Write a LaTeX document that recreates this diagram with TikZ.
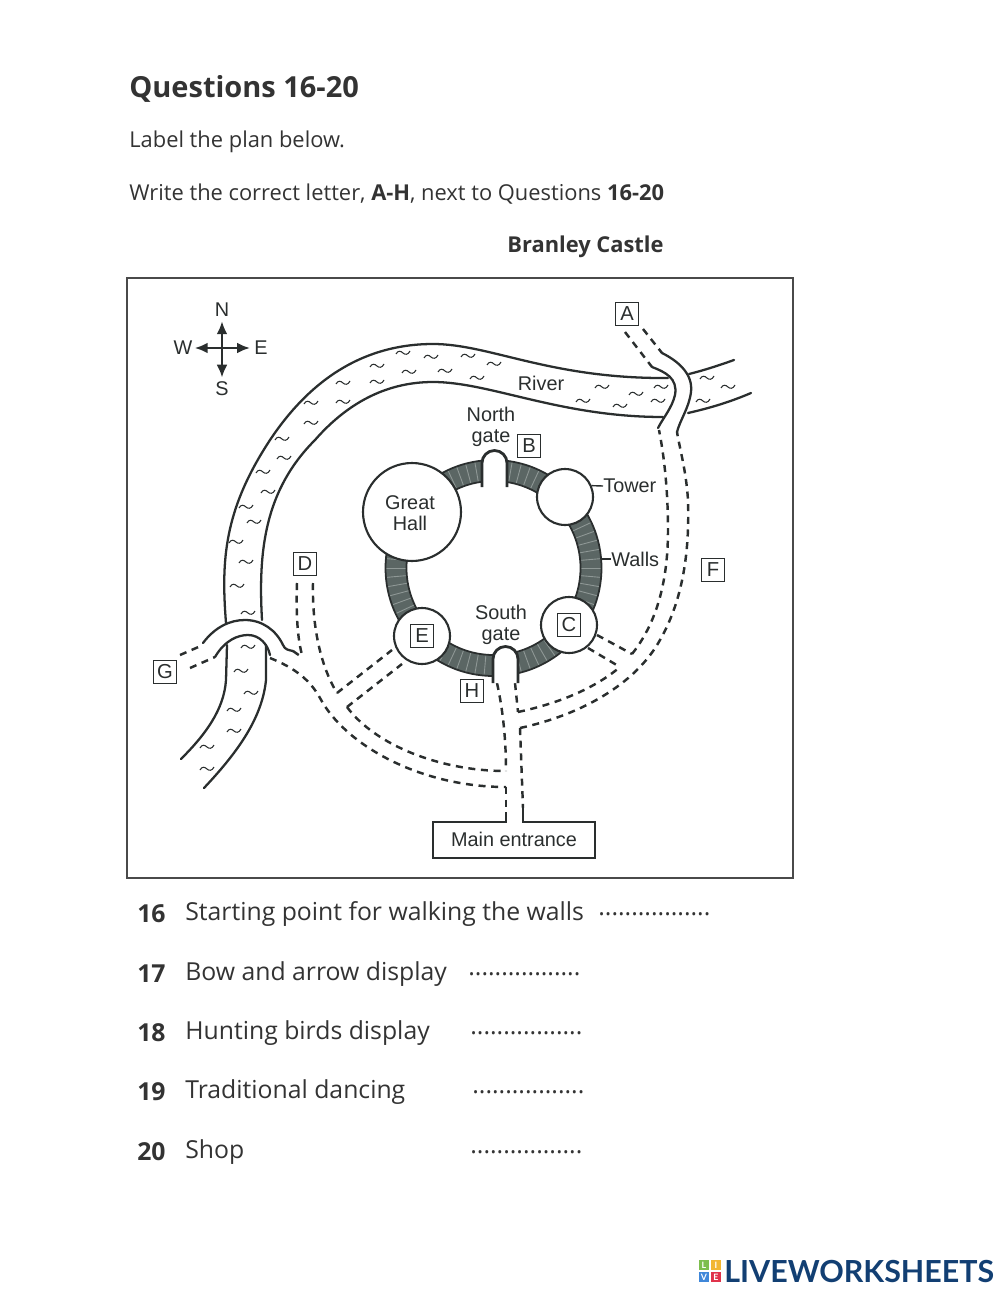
\documentclass[tikz,border=0pt]{standalone}
\usepackage{fontspec}
\setmainfont{Open Sans}
\newfontfamily\planfont{Liberation Sans}
\newfontfamily\logofont{Lato}
\usepackage{xcolor}
\usetikzlibrary{arrows.meta,calc,positioning}
\definecolor{ink}{HTML}{333333}
\definecolor{planink}{HTML}{2A2E2E}
\definecolor{frameink}{HTML}{4A4A4A}
\definecolor{wallfill}{HTML}{5B6664}
\definecolor{wallstripe}{HTML}{8F9896}
\definecolor{logoblue}{HTML}{123F73}
\definecolor{logogreen}{HTML}{7DBE4E}
\definecolor{logoyellow}{HTML}{F2B632}
\definecolor{logosky}{HTML}{3F87D9}
\definecolor{logored}{HTML}{E0334C}

\begin{document}
\begin{tikzpicture}[
    x=0.02cm, y=-0.02cm,
    font=\fontsize{12.45}{14}\selectfont,
    headtext/.style={anchor=west, inner sep=0pt, text=ink},
    listtext/.style={anchor=west, inner sep=0pt, text=ink, font=\fontsize{14.1}{16}\selectfont},
    planlabel/.style={align=center, inner sep=0pt, text=planink, font=\planfont\fontsize{11.3}{11.6}\selectfont},
    letterbox/.style={
        draw=planink,
        line width=0.9pt,
        minimum size=0.46cm,
        inner sep=0pt,
        text=planink,
        font=\planfont\fontsize{11.5}{12}\selectfont
    },
    bank/.style={draw=planink, line width=1.3pt, line cap=round},
    road/.style={draw=planink, line width=1.4pt, dash pattern=on 4pt off 3.2pt},
    building/.style={circle, draw=planink, line width=1.2pt, fill=white, inner sep=0pt},
    gatearch/.style={draw=planink, line width=1.6pt, fill=white},
    logosquare/.style={minimum size=0.2cm, inner sep=0pt, text=white, font=\logofont\bfseries\fontsize{5}{5}\selectfont},
    needle/.style={{Latex[length=2.6mm,width=2.2mm]}-{Latex[length=2.6mm,width=2.2mm]}, draw=planink, line width=1.4pt},
    wave/.pic={\draw[planink, line width=0.6pt] (-7,1) .. controls (-5,-3) and (-2,-2) .. (0,0) .. controls (2,2) and (5,2) .. (7,-2);}
]
\useasboundingbox (0,0) rectangle (1000,1291);

% Heading lines.
\node[headtext, font=\bfseries\fontsize{16.5}{20}\selectfont] (title) at (129,89) {Questions 16-20};
\node[headtext] (intro) at (129,142) {Label the plan below.};
\node[headtext] (task) at (129,194) {Write the correct letter, \textbf{A-H}, next to Questions \textbf{16-20}};
\node[headtext, font=\bfseries\fontsize{12.45}{14}\selectfont] (plantitle) at (507,247) {Branley Castle};

% Frame of the plan.
\draw[draw=frameink, line width=1.1pt] (127,278) rectangle (793,878);

% Compass.
\node[planlabel] (north) at (222,310) {N};
\node[planlabel] (south) at (222,389) {S};
\node[planlabel] (west) at (183,348) {W};
\node[planlabel] (east) at (261,348) {E};
\draw[needle] (north.south) ++(0,4) -- ($(south.north)+(0,-4)$);
\draw[needle] (west.east) ++(2,0) -- ($(east.west)+(-4,0)$);

% River banks.
\draw[bank] (226,623) .. controls (221,560) and (224,510) .. (270,440) .. controls (300,395) and (350,344) .. (433,344) .. controls (490,344) and (550,379) .. (668,378);
\draw[bank] (262,620) .. controls (258,550) and (265,490) .. (315,440) .. controls (350,400) and (390,382) .. (433,382) .. controls (490,382) and (560,417) .. (663,417);
\draw[bank] (689,374) .. controls (705,370) and (720,365) .. (734,360);
\draw[bank] (688,413) .. controls (710,408) and (730,402) .. (751,393);
\draw[bank] (227,645) -- (226,680) .. controls (224,710) and (205,735) .. (181,759);
\draw[bank] (266,645) -- (266,680) .. controls (262,720) and (235,755) .. (204,788);

% Ripples on the water.
\foreach \wx/\wy in {403/353,377/366,409/372,343/383,377/382,343/402,311/403,311/423,282/439,284/458,
    431/357,468/356,494/364,445/371,477/378,602/387,661/387,636/394,583/401,658/401,620/406,
    707/378,728/387,703/401,263/472,268/492,246/507,254/522,236/542,246/562,237/586,248/613,
    248/647,241/671,251/693,234/710,234/731,207/747,207/769}
    \pic at (\wx,\wy) {wave};
\node[planlabel] (river) at (541,383) {River};

% Bridges.
\draw[bank] (652,367) .. controls (665,372) and (678,378) .. (675,395) .. controls (672,408) and (663,418) .. (658,428);
\draw[bank] (662,353) .. controls (680,362) and (693,375) .. (691,392) .. controls (689,408) and (680,420) .. (677,432);
\draw[bank] (203,643) .. controls (215,627) and (230,620) .. (245,620) .. controls (262,620) and (276,630) .. (283,645) .. controls (285,650) and (289,650) .. (293,651);
\draw[bank] (215,657) .. controls (225,640) and (238,635) .. (248,635) .. controls (260,635) and (268,645) .. (270,655);

% Paths.
\draw[road] (625,332) -- (652,367);
\draw[road] (643,329) -- (662,353);
\draw[road] (180,655) -- (203,645);
\draw[road] (190,668) -- (215,657);
\draw[road] (293,651) -- (303,658);
\draw[road] (297,583) .. controls (296,610) and (297,640) .. (303,658);
\draw[road] (313,583) .. controls (312,625) and (320,665) .. (337,693);
\draw[road] (337,693) -- (392,650);
\draw[road] (347,707) -- (402,664);
\draw[road] (270,658) .. controls (295,668) and (310,680) .. (320,698) .. controls (345,745) and (420,787) .. (506,787);
\draw[road] (347,707) .. controls (375,745) and (440,771) .. (506,771);
\draw[road] (497,683) .. controls (503,710) and (506,740) .. (506,771);
\draw[road] (506,787) -- (506,813);
\draw[road] (515,683) -- (518,712);
\draw[road] (520,728) -- (523,808);
\draw[road] (518,712) .. controls (560,703) and (595,688) .. (620,667);
\draw[road] (520,728) .. controls (580,715) and (635,685) .. (660,640) .. controls (680,605) and (690,560) .. (688,500) .. controls (686,470) and (680,450) .. (677,432);
\draw[road] (632,654) .. controls (655,625) and (668,585) .. (668,530) .. controls (668,490) and (664,455) .. (659,430);
\draw[road] (597,635) -- (632,654);
\draw[road] (588,648) -- (620,667);

% Walls with their stripes.
\fill[wallfill, even odd rule] (493.5,568) circle [radius=108*0.02cm] (493.5,568) circle [radius=87*0.02cm];
\foreach \ang in {0,5,...,355}
    \draw[wallstripe, line width=0.5pt] ($(493.5,568)+(\ang:87*0.02cm)$) -- ($(493.5,568)+(\ang:108*0.02cm)$);
\draw[planink, line width=1pt] (493.5,568) circle [radius=108*0.02cm];
\draw[planink, line width=1pt] (493.5,568) circle [radius=87*0.02cm];

% Gates.
\draw[gatearch] (482,487) -- (482,463) arc [start angle=180, end angle=0, radius=12.5*0.02cm] -- (507,487);
\draw[gatearch] (493,683) -- (493,659) arc [start angle=180, end angle=0, radius=12.5*0.02cm] -- (518,683);

% Buildings on the ring.
\node[building, minimum size=1.96cm] (hall) at (412,512) {};
\node[building, minimum size=1.12cm] (tower) at (565,497) {};
\node[building, minimum size=1.12cm] (towerC) at (569,625) {};
\node[building, minimum size=1.12cm] (towerE) at (422,636) {};

% Plan labels.
\node[planlabel] (halllabel) at (410,513) {Great\\Hall};
\node[planlabel] (northgate) at (491,427) {North\\gate};
\node[planlabel] (southgate) at (501,625) {South\\gate};
\node[planlabel, anchor=west] (towerlabel) at (603,486) {Tower};
\node[planlabel, anchor=west] (walllabel) at (611,559) {Walls};
\draw[planink, line width=0.8pt] (tower.23) -- (towerlabel.west);
\draw[planink, line width=0.8pt] (602,559) -- (walllabel.west);

% Letter boxes.
\foreach \nm/\px/\py in {A/627/314,B/529/446,C/569/625,D/305/564,E/422/636,F/713/570,G/165/672,H/472/691}
    \node[letterbox] (box\nm) at (\px,\py) {\nm};

% Main entrance.
\node[planlabel] (entrance) at (514,839) {Main entrance};
\draw[draw=planink, line width=1.3pt] (506,813) -- (506,822) -- (433,822) -- (433,858) -- (595,858) -- (595,822) -- (523,822) -- (523,808);

% Question list.
\foreach \num/\ypos/\txt/\dotx in {16/914/Starting point for walking the walls/598,
    17/974/Bow and arrow display/468,
    18/1033/Hunting birds display/470,
    19/1092/Traditional dancing/472,
    20/1152/Shop/470}{
    \node[listtext, font=\bfseries\fontsize{14.1}{16}\selectfont] (num\num) at (137,\ypos) {\num};
    \node[listtext] (item\num) at (185,\ypos) {\txt};
    \node[listtext] (dots\num) at (\dotx,\ypos) {.................};
}

% Logo.
\node[logosquare, fill=logogreen] (logoL) at (704,1265) {L};
\node[logosquare, fill=logoyellow] (logoI) at (716,1265) {I};
\node[logosquare, fill=logosky] (logoV) at (704,1277) {V};
\node[logosquare, fill=logored] (logoE) at (716,1277) {E};
\node[anchor=west, inner sep=0pt, text=logoblue, font=\logofont\bfseries\fontsize{17.3}{20}\selectfont] (logotext) at (724,1271) {LIVEWORKSHEETS};

\end{tikzpicture}
\end{document}
